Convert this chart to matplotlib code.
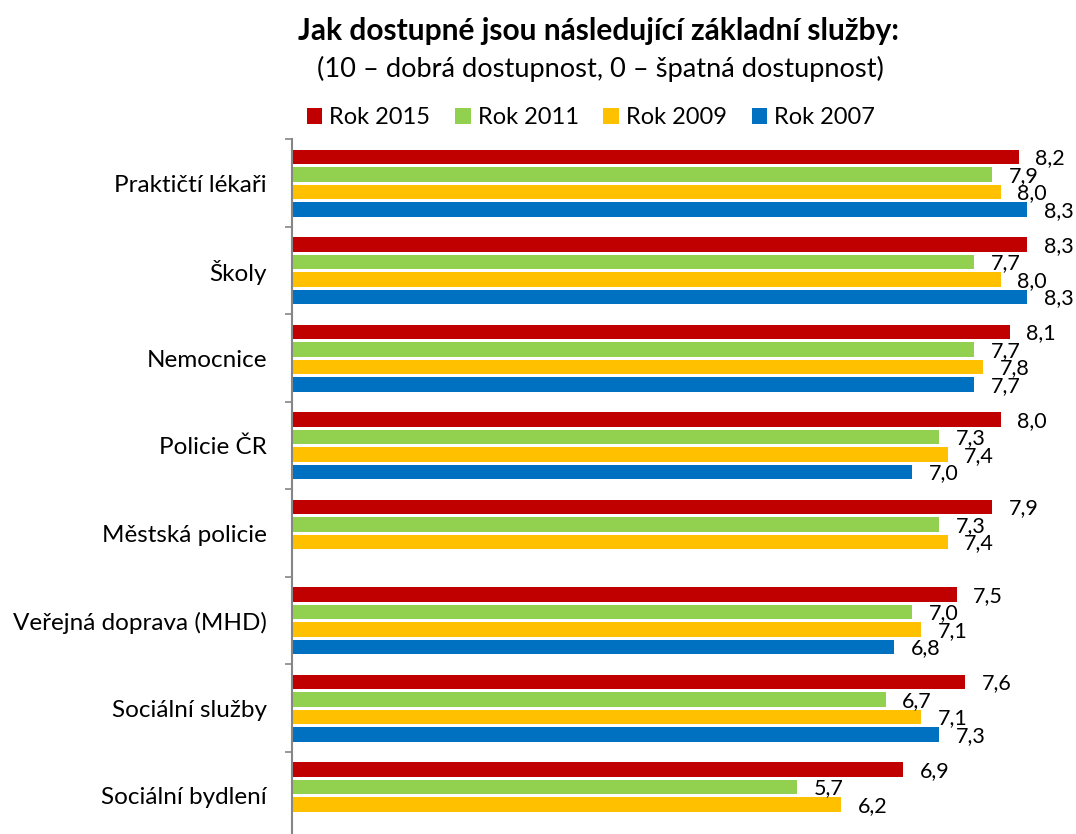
import matplotlib
matplotlib.use("Agg")
import matplotlib.pyplot as plt
from matplotlib.patches import Patch
import numpy as np

plt.rcParams['font.family'] = ['Lato', 'DejaVu Sans']

categories = ["Praktičtí lékaři", "Školy", "Nemocnice", "Policie ČR",
              "Městská policie", "Veřejná doprava (MHD)", "Sociální služby",
              "Sociální bydlení"]
series_names = ["Rok 2015", "Rok 2011", "Rok 2009", "Rok 2007"]
rok_2015 = [8.2, 8.3, 8.1, 8.0, 7.9, 7.5, 7.6, 6.9]
rok_2011 = [7.9, 7.7, 7.7, 7.3, 7.3, 7.0, 6.7, 5.7]
rok_2009 = [8.0, 8.0, 7.8, 7.4, 7.4, 7.1, 7.1, 6.2]
rok_2007 = [8.3, 8.3, 7.7, 7.0, None, 6.8, 7.3, None]
colors = ["#C00000", "#92D050", "#FFC000", "#0070C0"]

W, H = 1076, 834
fig = plt.figure(figsize=(W / 100, H / 100), dpi=100)

ax_left = 292 / W
ax_right_px = 292 + 8.7 * 88.6
ax_top_px = 139.3
ax_bot_px = 139.3 + 8 * 87.5
ax = fig.add_axes([ax_left, 1 - ax_bot_px / H, (ax_right_px - 292) / W,
                   (ax_bot_px - ax_top_px) / H])

all_series = [rok_2015, rok_2011, rok_2009, rok_2007]
y = np.arange(len(categories))
offsets = [-0.3, -0.1, 0.1, 0.3]
bar_h = 0.165
for vals, col, off in zip(all_series, colors, offsets):
    for i, v in enumerate(vals):
        if v is None:
            continue
        ax.barh(y[i] + off, v, height=bar_h, color=col, left=0)
        ax.annotate(f"{v:.1f}".replace('.', ','), xy=(v, y[i] + off),
                    xytext=(12, -1), textcoords='offset points',
                    ha='left', va='center', fontsize=15.5, color='black')

ax.set_xlim(0, 8.7)
ax.set_ylim(len(categories) - 0.5, -0.5)
ax.set_yticks(y)
ax.set_yticklabels(categories, fontsize=17.5)
ax.set_yticks(np.arange(-0.5, len(categories) + 0.5, 1), minor=True)
ax.tick_params(axis='y', which='major', length=0, pad=18)
ax.tick_params(axis='y', which='minor', length=5, width=1.2, color='#868686',
               direction='out')
ax.set_xticks([])
for s in ['top', 'right', 'bottom']:
    ax.spines[s].set_visible(False)
ax.spines['left'].set_color('#868686')
ax.spines['left'].set_linewidth(1.5)
ax.patch.set_alpha(0)

fig.text(598 / W, 1 - 31 / H, "Jak dostupné jsou následující základní služby:",
         ha='center', va='center', fontsize=21.5, fontweight='bold')
fig.text(600 / W, 1 - 69 / H, "(10 – dobrá dostupnost, 0 – špatná dostupnost)",
         ha='center', va='center', fontsize=19.6)

handles = [Patch(facecolor=c, edgecolor='none') for c in colors]
fig.legend(handles, series_names, loc='center', ncol=4,
           bbox_to_anchor=(591 / W, 1 - 118 / H), frameon=False, fontsize=17,
           handlelength=0.65, handleheight=0.65, handletextpad=0.3,
           columnspacing=1.05)

fig.savefig("out.png", dpi=100)
